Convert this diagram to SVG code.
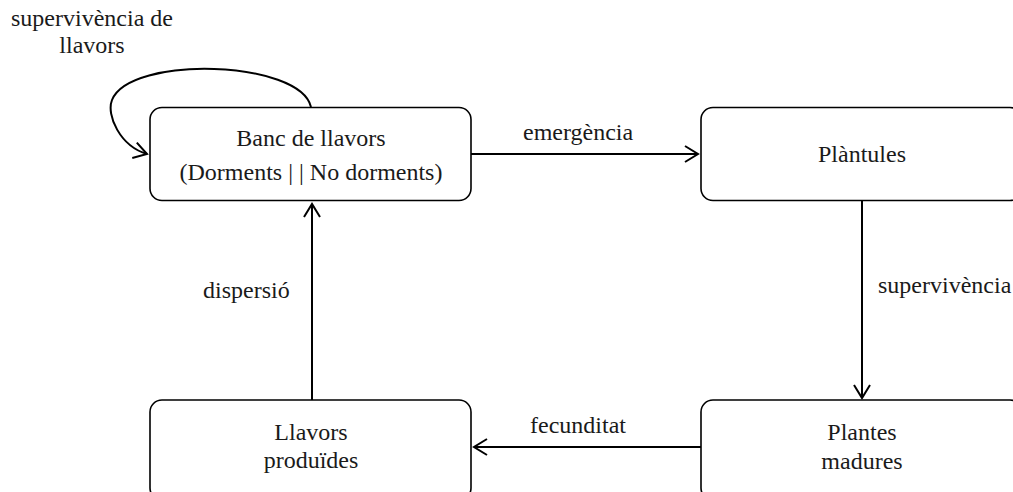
<svg xmlns="http://www.w3.org/2000/svg" width="1013" height="492" viewBox="0 0 1013 492">
<style>
.box{fill:#fff;stroke:#000;stroke-width:1.6}
.t{font-family:"Liberation Serif","DejaVu Serif",serif;font-size:24px;fill:#1a1a1a}
.c{text-anchor:middle}
.edge{fill:none;stroke:#000;stroke-width:2}
</style>
<defs>
<marker id="arr" markerUnits="userSpaceOnUse" markerWidth="16" markerHeight="20" viewBox="0 0 16 20" refX="14" refY="9" orient="auto">
<path d="M1,1 L14,9 L1,17" fill="none" stroke="#000" stroke-width="2"/>
</marker>
</defs>
<rect width="1013" height="492" fill="#fff"/>
<g id="connectors">
<path class="edge" d="M311,107 C300,60 130,55 112,100 C106,115 120,146 147,154" marker-end="url(#arr)"/>
<path class="edge" d="M471,154 L698,154" marker-end="url(#arr)"/>
<path class="edge" d="M862,201 L862,398" marker-end="url(#arr)"/>
<path class="edge" d="M701,447 L474,447" marker-end="url(#arr)"/>
<path class="edge" d="M312,400 L312,204" marker-end="url(#arr)"/>
<text class="t c" x="92" y="26">supervivència de</text>
<text class="t c" x="92" y="53">llavors</text>
<text class="t" x="523" y="140">emergència</text>
<text class="t" x="878" y="293">supervivència</text>
<text class="t" x="530" y="433">fecunditat</text>
<text class="t" x="203" y="298">dispersió</text>
</g>
<g id="banc">
<rect class="box" x="150" y="107.5" width="321" height="93" rx="12"/>
<text class="t c" x="311" y="146">Banc de llavors</text>
<text class="t c" x="311" y="180">(Dorments | | No dorments)</text>
</g>
<g id="plantules">
<rect class="box" x="701" y="107.5" width="321" height="93" rx="12"/>
<text class="t c" x="862" y="162">Plàntules</text>
</g>
<g id="plantes">
<rect class="box" x="701" y="400" width="321" height="100" rx="12"/>
<text class="t c" x="862" y="440">Plantes</text>
<text class="t c" x="862" y="469">madures</text>
</g>
<g id="llavors">
<rect class="box" x="150" y="400" width="321" height="100" rx="12"/>
<text class="t c" x="311" y="440">Llavors</text>
<text class="t c" x="311" y="468">produïdes</text>
</g>
</svg>
